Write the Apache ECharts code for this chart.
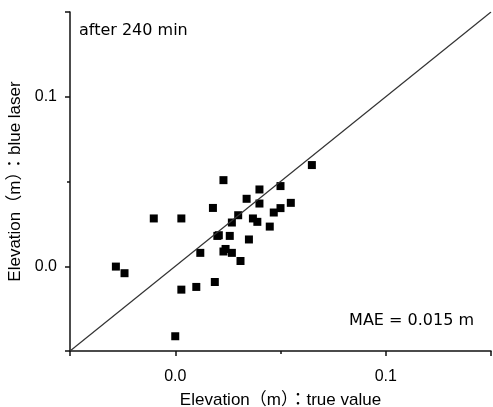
<!DOCTYPE html>
<html>
<head>
<meta charset="utf-8">
<script src="https://cdn.jsdelivr.net/npm/echarts@6/dist/echarts.min.js"></script>
<style>
  html, body { margin: 0; padding: 0; background: #fff; }
  #chart { width: 493px; height: 407px; }
</style>
</head>
<body>
<div id="chart"></div>
<script>
// elevation, true value (m)
var xTrue = [0.0649, 0.0229, 0.0400, 0.0500, 0.0339, 0.0400, 0.0549, 0.0500,
             0.0468, 0.0179, -0.0102, 0.0029, 0.0299, 0.0269, 0.0369, 0.0390,
             0.0449, 0.0200, 0.0207, 0.0259, 0.0350, 0.0119, 0.0239, 0.0229,
             0.0269, 0.0310, 0.0188, 0.0100, 0.0029, 0.0000, -0.0282, -0.0241];
// elevation, blue laser (m)
var yLaser = [0.0597, 0.0508, 0.0453, 0.0473, 0.0398, 0.0370, 0.0374, 0.0343,
              0.0317, 0.0344, 0.0282, 0.0282, 0.0301, 0.0258, 0.0282, 0.0262,
              0.0234, 0.0179, 0.0183, 0.0179, 0.0158, 0.0079, 0.0102, 0.0087,
              0.0079, 0.0031, -0.0093, -0.0122, -0.0138, -0.0413, -0.0002, -0.0041];
var axisRange = [-0.05, 0.15];
var majorTicks = [-0.05, 0, 0.1, 0.15];
var tickLabels = [0, 0.1];
var minorTicks = [0.05];

var chartDom = document.getElementById('chart');
var myChart = echarts.init(chartDom);

var points = [];
for (var i = 0; i < xTrue.length; i++) {
  points.push([xTrue[i], yLaser[i]]);
}

var tickLine = { color: '#111', width: 1.5 };

function makeAxis(pos, extra) {
  return Object.assign({
    type: 'value',
    position: pos,
    min: axisRange[0],
    max: axisRange[1],
    interval: 0.05,
    splitLine: { show: false },
    axisLine: { show: true, onZero: false, lineStyle: tickLine },
    axisTick: { show: true, customValues: majorTicks, length: 5, lineStyle: tickLine },
    axisLabel: {
      customValues: tickLabels,
      color: '#000',
      fontFamily: 'Liberation Sans',
      fontSize: 16,
      margin: 12,
      formatter: function (v) { return v.toFixed(1); }
    }
  }, extra);
}

// second axis only carries the short tick at 0.05
function minorAxis(pos) {
  return makeAxis(pos, {
    axisLine: { show: false, onZero: false },
    axisTick: { show: true, customValues: minorTicks, length: 3, lineStyle: tickLine },
    axisLabel: { show: false }
  });
}

var nameStyle = { color: '#000', fontFamily: '"Liberation Sans", "Noto Sans CJK JP"', fontSize: 17 };

var xMain = makeAxis('bottom', { name: 'Elevation（m）：true value', nameLocation: 'middle', nameGap: 41, nameTextStyle: nameStyle });
xMain.axisLabel.margin = 18;
var yMain = makeAxis('left', { name: 'Elevation（m）：blue laser', nameLocation: 'middle', nameGap: 36, nameTextStyle: nameStyle });
yMain.axisLabel.margin = 13;

var option = {
  animation: false,
  backgroundColor: '#fff',
  grid: { left: 70, right: 2, top: 12, bottom: 56, outerBoundsMode: 'none', containLabel: false },
  xAxis: [xMain, minorAxis('bottom')],
  yAxis: [yMain, minorAxis('left')],
  graphic: [
    { type: 'text', left: 79, top: 23, style: { text: 'after 240 min', fill: '#000', font: '16px "DejaVu Sans"' } },
    { type: 'text', right: 19, top: 313, style: { text: 'MAE = 0.015 m', fill: '#000', font: '16px "DejaVu Sans"' } }
  ],
  series: [
    {
      type: 'line',
      data: [[axisRange[0], axisRange[0]], [axisRange[1], axisRange[1]]],
      symbol: 'none',
      lineStyle: { color: '#333', width: 1.2 },
      silent: true
    },
    {
      type: 'scatter',
      data: points,
      symbol: 'rect',
      symbolSize: 8,
      itemStyle: { color: '#000', opacity: 1 }
    }
  ]
};

myChart.setOption(option);
</script>
</body>
</html>
